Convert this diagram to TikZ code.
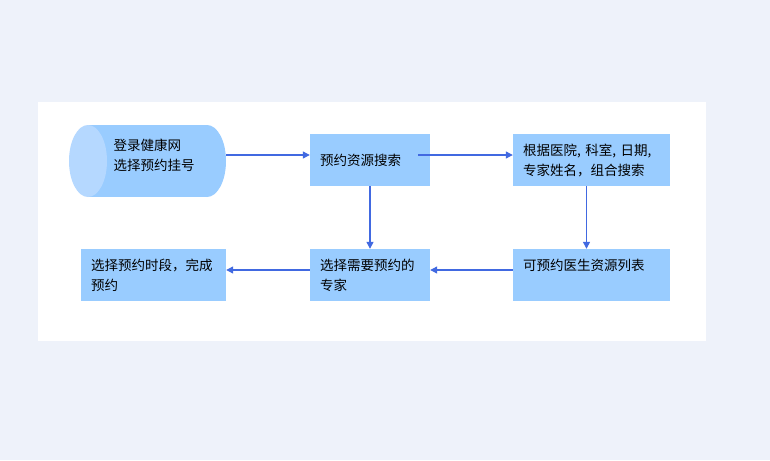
\documentclass[tikz,border=0pt]{standalone}
\usepackage{fontspec}
\setmainfont{Noto Sans CJK SC}
\usepackage[HTML]{xcolor}
\usepackage{tikz}
\usetikzlibrary{positioning, arrows.meta}
\definecolor{pagebg}{HTML}{EEF2FA}
\definecolor{boxblue}{HTML}{99CCFF}
\definecolor{capblue}{HTML}{B5D8FF}
\definecolor{lineblue}{HTML}{4169E1}

\begin{document}
\begin{tikzpicture}[
    x=1pt, y=-1pt, % one unit = one pixel, y downwards
    every node/.style={font=\fontsize{13.5}{20}\selectfont, text=black},
    stepbox/.style={rectangle, fill=boxblue, minimum height=52pt, inner xsep=10pt, align=left},
    flow/.style={draw=lineblue, line width=1.2pt, -{Triangle[length=7pt, width=7pt]}}
]
    % 0. Background and white panel
    \useasboundingbox (0,0) rectangle (770,460);
    \fill[pagebg] (0,0) rectangle (770,460);
    \fill[white] (38,102) rectangle (706,341);

    % cylinder: body, round right end, light left face
    \fill[boxblue] (88,125) rectangle (207,197);
    \fill[boxblue] (207,161) ellipse [x radius=19, y radius=36];
    \fill[capblue] (88,161) ellipse [x radius=19, y radius=36];

    % 1. Define the nodes using explicit coordinates
    \node (login) [minimum width=157pt, minimum height=72pt, inner sep=0pt,
        align=left] at (147.5,155)
        {\hspace*{13pt}登录健康网\\\hspace*{13pt}选择预约挂号};
    \node (search) [stepbox, text width=100pt] at (370,160) {预约资源搜索};
    \node (combo) [stepbox, text width=137pt] at (591.5,160)
        {根据医院, 科室, 日期,\\专家姓名，组合搜索};
    \node (list) [stepbox, text width=137pt, text depth=20pt] at (591.5,275)
        {可预约医生资源列表};
    \node (expert) [stepbox, text width=100pt] at (370,275)
        {选择需要预约的\\专家};
    \node (finish) [stepbox, text width=125pt] at (153.5,275)
        {选择预约时段，完成\\预约};

    % 2. Draw the arrows

    % top row
    \draw[flow] (login.east) -- ([yshift=5pt]search.west);
    \draw[flow] ([xshift=-12pt, yshift=5pt]search.east) -- ([yshift=5pt]combo.west);

    % down
    \draw[flow] (search) -- (expert);
    \draw[flow] ([xshift=-5pt]combo.south) -- ([xshift=-5pt]list.north);

    % bottom row, right to left
    \draw[flow] ([yshift=5pt]list.west) -- ([yshift=5pt]expert.east);
    \draw[flow] ([yshift=5pt]expert.west) -- ([yshift=5pt]finish.east);

\end{tikzpicture}
\end{document}
